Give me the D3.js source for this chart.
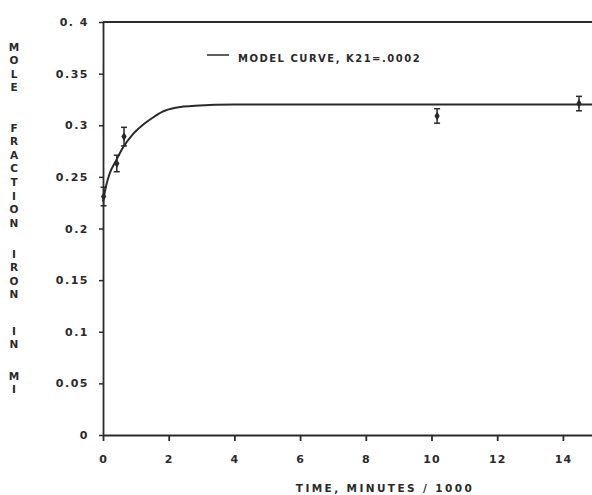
<!DOCTYPE html>
<html>
<head>
<meta charset="utf-8">
<script src="https://cdn.jsdelivr.net/npm/d3@7"></script>
<style>
  body { margin: 0; background: #fff; }
  text { font-family: "DejaVu Sans", sans-serif; font-weight: bold; fill: #2a2a2a; }
</style>
</head>
<body>
<div id="chart"></div>
<script>
// measured points (time in minutes/1000, mole fraction) with error half-widths
var obsTime = [0.02, 0.42, 0.64, 10.17, 14.49];
var obsValue = [0.231, 0.263, 0.289, 0.309, 0.321];
var obsErr = [0.009, 0.008, 0.009, 0.007, 0.007];

// model curve
var modelTime = [0, 0.1, 0.2, 0.4, 0.6, 0.9, 1.2, 1.5, 1.8, 2.2, 2.8, 4, 15];
var modelValue = [0.226, 0.242, 0.253, 0.266, 0.278, 0.291, 0.300, 0.307, 0.313, 0.317, 0.319, 0.320, 0.320];

var xTicks = [0, 2, 4, 6, 8, 10, 12, 14];
var yTicks = [0, 0.05, 0.1, 0.15, 0.2, 0.25, 0.3, 0.35, 0.4];
var yTickLabels = ["0", "0.05", "0.1", "0.15", "0.2", "0.25", "0.3", "0.35", "0. 4"];
var yTitleWords = ["MOLE", "FRACTION", "IRON", "IN", "MI"];

var svg = d3.select("#chart")
    .append("svg")
    .attr("width", 592)
    .attr("height", 495);

var x = d3.scaleLinear().domain([0, 15]).range([103, 595.75]),
    y = d3.scaleLinear().domain([0, 0.4]).range([435, 22]);

var ink = "#2a2a2a";

// x axis
var gx = svg.append("g")
    .attr("transform", "translate(0," + y(0) + ")")
    .call(d3.axisBottom(x).tickValues(xTicks).tickSize(6).tickSizeOuter(0).tickFormat(d3.format("d")));
gx.select(".domain").attr("stroke", ink).attr("stroke-width", 1.8);
gx.selectAll(".tick line").attr("stroke", ink).attr("stroke-width", 1.8);
gx.selectAll(".tick text")
    .attr("y", 20)
    .style("font-size", "11px")
    .style("letter-spacing", "1px")
    .attr("fill", ink);

// y axis
var gy = svg.append("g")
    .attr("transform", "translate(" + x(0) + ",0)")
    .call(d3.axisLeft(y).tickValues(yTicks).tickSize(4).tickSizeOuter(0)
      .tickFormat(function(d, i) { return yTickLabels[i]; }));
gy.select(".domain").attr("stroke", ink).attr("stroke-width", 1.8);
gy.selectAll(".tick line").attr("stroke", ink).attr("stroke-width", 1.5);
gy.selectAll(".tick text")
    .attr("x", -14)
    .style("font-size", "11px")
    .style("letter-spacing", "1.5px")
    .attr("fill", ink);

// top frame line
svg.append("line")
    .attr("x1", x(0)).attr("x2", x(15))
    .attr("y1", y(0.4)).attr("y2", y(0.4))
    .attr("stroke", ink).attr("stroke-width", 1.8);

// axis titles
svg.append("text")
    .attr("x", 385).attr("y", 492)
    .attr("text-anchor", "middle")
    .style("font-size", "10.5px")
    .style("letter-spacing", "2.4px")
    .text("TIME, MINUTES / 1000");

var wordStart = [47, 128, 254, 331, 376];
yTitleWords.forEach(function(w, i) {
  w.split("").forEach(function(ch, j) {
    svg.append("text")
      .attr("x", 14)
      .attr("y", wordStart[i] + j * 13.6)
      .attr("dy", "0.35em")
      .attr("text-anchor", "middle")
      .style("font-size", "10.5px")
      .text(ch);
  });
});

// model curve
var model = modelTime.map(function(t, i) { return {t: t, v: modelValue[i]}; });
var line = d3.line()
    .x(function(d) { return x(d.t); })
    .y(function(d) { return y(d.v); })
    .curve(d3.curveMonotoneX);

svg.append("path")
    .datum(model)
    .attr("fill", "none")
    .attr("stroke", ink)
    .attr("stroke-width", 2)
    .attr("d", line);

// observed points with error bars
var obs = obsTime.map(function(t, i) { return {t: t, v: obsValue[i], e: obsErr[i]}; });
var pt = svg.selectAll(".obs")
    .data(obs)
  .enter().append("g")
    .attr("class", "obs");

pt.append("line")
    .attr("x1", function(d) { return x(d.t); })
    .attr("x2", function(d) { return x(d.t); })
    .attr("y1", function(d) { return y(d.v - d.e); })
    .attr("y2", function(d) { return y(d.v + d.e); })
    .attr("stroke", ink).attr("stroke-width", 1.5);

[-1, 1].forEach(function(s) {
  pt.append("line")
    .attr("x1", function(d) { return x(d.t) - 3; })
    .attr("x2", function(d) { return x(d.t) + 3; })
    .attr("y1", function(d) { return y(d.v + s * d.e); })
    .attr("y2", function(d) { return y(d.v + s * d.e); })
    .attr("stroke", ink).attr("stroke-width", 1.5);
});

pt.append("path")
    .attr("transform", function(d) { return "translate(" + x(d.t) + "," + y(d.v) + ")"; })
    .attr("d", d3.symbol().type(d3.symbolDiamond).size(24))
    .attr("fill", ink);

// legend
svg.append("line")
    .attr("x1", 207).attr("x2", 229)
    .attr("y1", 55).attr("y2", 55)
    .attr("stroke", ink).attr("stroke-width", 1.5);
svg.append("text")
    .attr("x", 238).attr("y", 58)
    .attr("dy", "0.35em")
    .style("font-size", "10px")
    .style("letter-spacing", "1.5px")
    .text("MODEL CURVE, K21=.0002");
</script>
</body>
</html>
